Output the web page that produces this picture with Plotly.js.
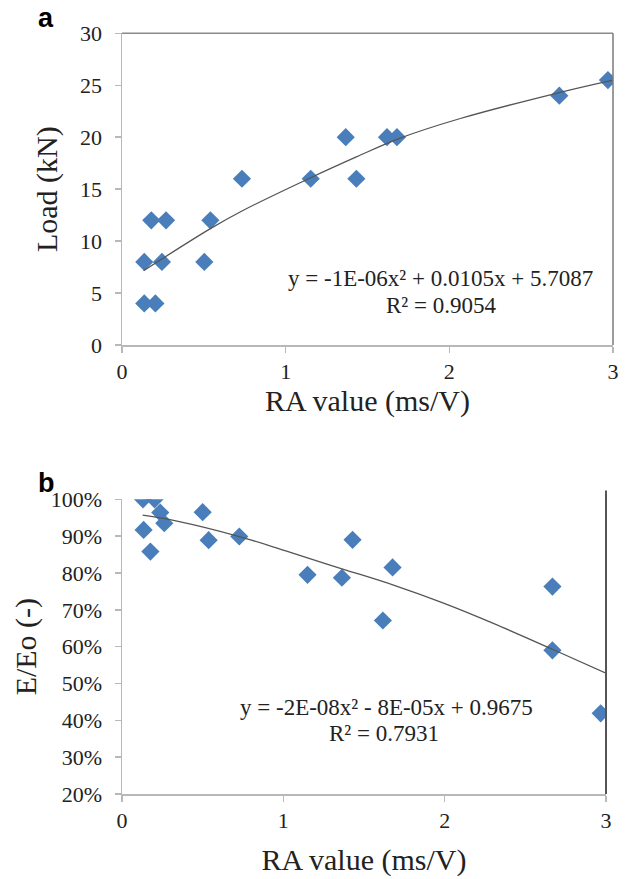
<!DOCTYPE html>
<html>
<head>
<meta charset="utf-8">
<script src="https://cdn.plot.ly/plotly-3.0.1.min.js"></script>
<style>html,body{margin:0;padding:0;background:#fff}#chart{width:625px;height:879px}</style>
</head>
<body>
<div id="chart"></div>
<script>
// Panel a: Load vs RA value
const raA = [0.136, 0.204, 0.136, 0.244, 0.179, 0.269, 0.503, 0.540, 0.733, 1.153, 1.367, 1.432, 1.619, 1.680, 2.672, 2.969];
const loadA = [4, 4, 8, 8, 12, 12, 8, 12, 16, 16, 20, 16, 20, 20, 24, 25.5];
// trendline of panel a
const trendAx = [0.132, 0.540, 0.733, 1.153, 1.432, 1.680, 2.067, 2.672, 3.0];
const trendAy = [7.15, 11.2, 12.9, 16.1, 18.1, 19.8, 21.8, 24.3, 25.5];

// Panel b: E/Eo vs RA value
const raB = [0.130, 0.202, 0.237, 0.262, 0.134, 0.176, 0.500, 0.537, 0.727, 1.150, 1.363, 1.429, 1.617, 1.677, 2.668, 2.668, 2.967];
const ratioB = [1.00, 1.00, 0.964, 0.935, 0.917, 0.858, 0.965, 0.889, 0.899, 0.795, 0.787, 0.890, 0.671, 0.815, 0.763, 0.590, 0.419];
// trendline of panel b
const trendBx = [0.128, 0.341, 0.727, 1.063, 1.373, 1.683, 1.993, 2.302, 2.668, 3.0];
const trendBy = [0.957, 0.941, 0.899, 0.853, 0.810, 0.767, 0.718, 0.663, 0.593, 0.528];

const xTicks = [0, 1, 2, 3];
const yTicksA = [0, 5, 10, 15, 20, 25, 30];
const yTicksB = [0.2, 0.3, 0.4, 0.5, 0.6, 0.7, 0.8, 0.9, 1.0];

const eqA = ["y = -1E-06x² + 0.0105x + 5.7087", "R² = 0.9054"];
const eqB = ["y = -2E-08x² - 8E-05x + 0.9675", "R² = 0.7931"];

const serif = "Liberation Serif, Times New Roman, serif";
const sans = "Liberation Sans, Arial, sans-serif";
const blue = "#4a7ebb";
const W = 625, H = 879;
const px = v => v / W;
const py = v => 1 - v / H;

const traces = [
  {x: raA, y: loadA, type: "scatter", mode: "markers", xaxis: "x", yaxis: "y",
   marker: {symbol: "diamond", size: 14, color: blue}},
  {x: trendAx, y: trendAy, type: "scatter", mode: "lines", xaxis: "x", yaxis: "y",
   line: {color: "#555555", width: 1.3, shape: "spline"}},
  {x: raB, y: ratioB, type: "scatter", mode: "markers", xaxis: "x2", yaxis: "y2",
   marker: {symbol: "diamond", size: 14, color: blue}},
  {x: trendBx, y: trendBy, type: "scatter", mode: "lines", xaxis: "x2", yaxis: "y2",
   line: {color: "#555555", width: 1.3, shape: "spline"}}
];

const axisCommon = {
  showgrid: false, zeroline: false, showline: true, linecolor: "#b8b8b8", linewidth: 1.5,
  ticks: "outside", ticklen: 6, tickcolor: "#b8b8b8", tickwidth: 1.5,
  tickfont: {family: serif, size: 22, color: "#222"}, automargin: false
};
const titleFont = {family: serif, size: 30, color: "#222"};

const layout = {
  width: W, height: H, margin: {l: 0, r: 0, t: 0, b: 0},
  paper_bgcolor: "#fff", plot_bgcolor: "#fff", showlegend: false,
  xaxis: Object.assign({}, axisCommon, {
    domain: [px(122), px(613)], range: [0, 3], tickvals: xTicks, anchor: "y",
    title: {text: "RA value (ms/V)", font: titleFont, standoff: 7}
  }),
  yaxis: Object.assign({}, axisCommon, {
    domain: [py(345), py(33.3)], range: [0, 30], tickvals: yTicksA, anchor: "x",
    ticklabelstandoff: 8,
    title: {text: "Load (kN)", font: titleFont, standoff: 13}
  }),
  xaxis2: Object.assign({}, axisCommon, {
    domain: [px(122), px(606)], range: [0, 3], tickvals: xTicks, anchor: "y2",
    title: {text: "RA value (ms/V)", font: titleFont, standoff: 17}
  }),
  yaxis2: Object.assign({}, axisCommon, {
    domain: [py(794), py(499.3)], range: [0.2, 1.0], tickvals: yTicksB, tickformat: ".0%", anchor: "x2",
    ticklabelstandoff: 8,
    title: {text: "E/Eo (-)", font: titleFont, standoff: 5}
  }),
  shapes: [
    {type: "line", xref: "x domain", yref: "y domain", x0: 0, x1: 1, y0: 1, y1: 1, line: {color: "#8a8a8a", width: 1.5}},
    {type: "line", xref: "x domain", yref: "y domain", x0: 1, x1: 1, y0: 0, y1: 1, line: {color: "#7a7a7a", width: 1.5}},
    {type: "line", xref: "x2 domain", yref: "y2 domain", x0: 1, x1: 1, y0: 0, y1: 1.03, line: {color: "#555555", width: 2}}
  ],
  annotations: [
    {text: "a", xref: "paper", yref: "paper", x: px(36), y: py(1), xanchor: "left", yanchor: "top",
     showarrow: false, font: {family: sans, size: 27, color: "#000", weight: "bold"}},
    {text: "b", xref: "paper", yref: "paper", x: px(36), y: py(466), xanchor: "left", yanchor: "top",
     showarrow: false, font: {family: sans, size: 27, color: "#000", weight: "bold"}},
    {text: eqA[0], xref: "paper", yref: "paper", x: px(440), y: py(278), xanchor: "center", yanchor: "middle",
     showarrow: false, font: {family: serif, size: 23, color: "#222"}},
    {text: eqA[1], xref: "paper", yref: "paper", x: px(441), y: py(305), xanchor: "center", yanchor: "middle",
     showarrow: false, font: {family: serif, size: 23, color: "#222"}},
    {text: eqB[0], xref: "paper", yref: "paper", x: px(386), y: py(707), xanchor: "center", yanchor: "middle",
     showarrow: false, font: {family: serif, size: 23, color: "#222"}},
    {text: eqB[1], xref: "paper", yref: "paper", x: px(384), y: py(733), xanchor: "center", yanchor: "middle",
     showarrow: false, font: {family: serif, size: 23, color: "#222"}}
  ]
};

Plotly.newPlot("chart", traces, layout, {displayModeBar: false, staticPlot: true});
</script>
</body>
</html>
